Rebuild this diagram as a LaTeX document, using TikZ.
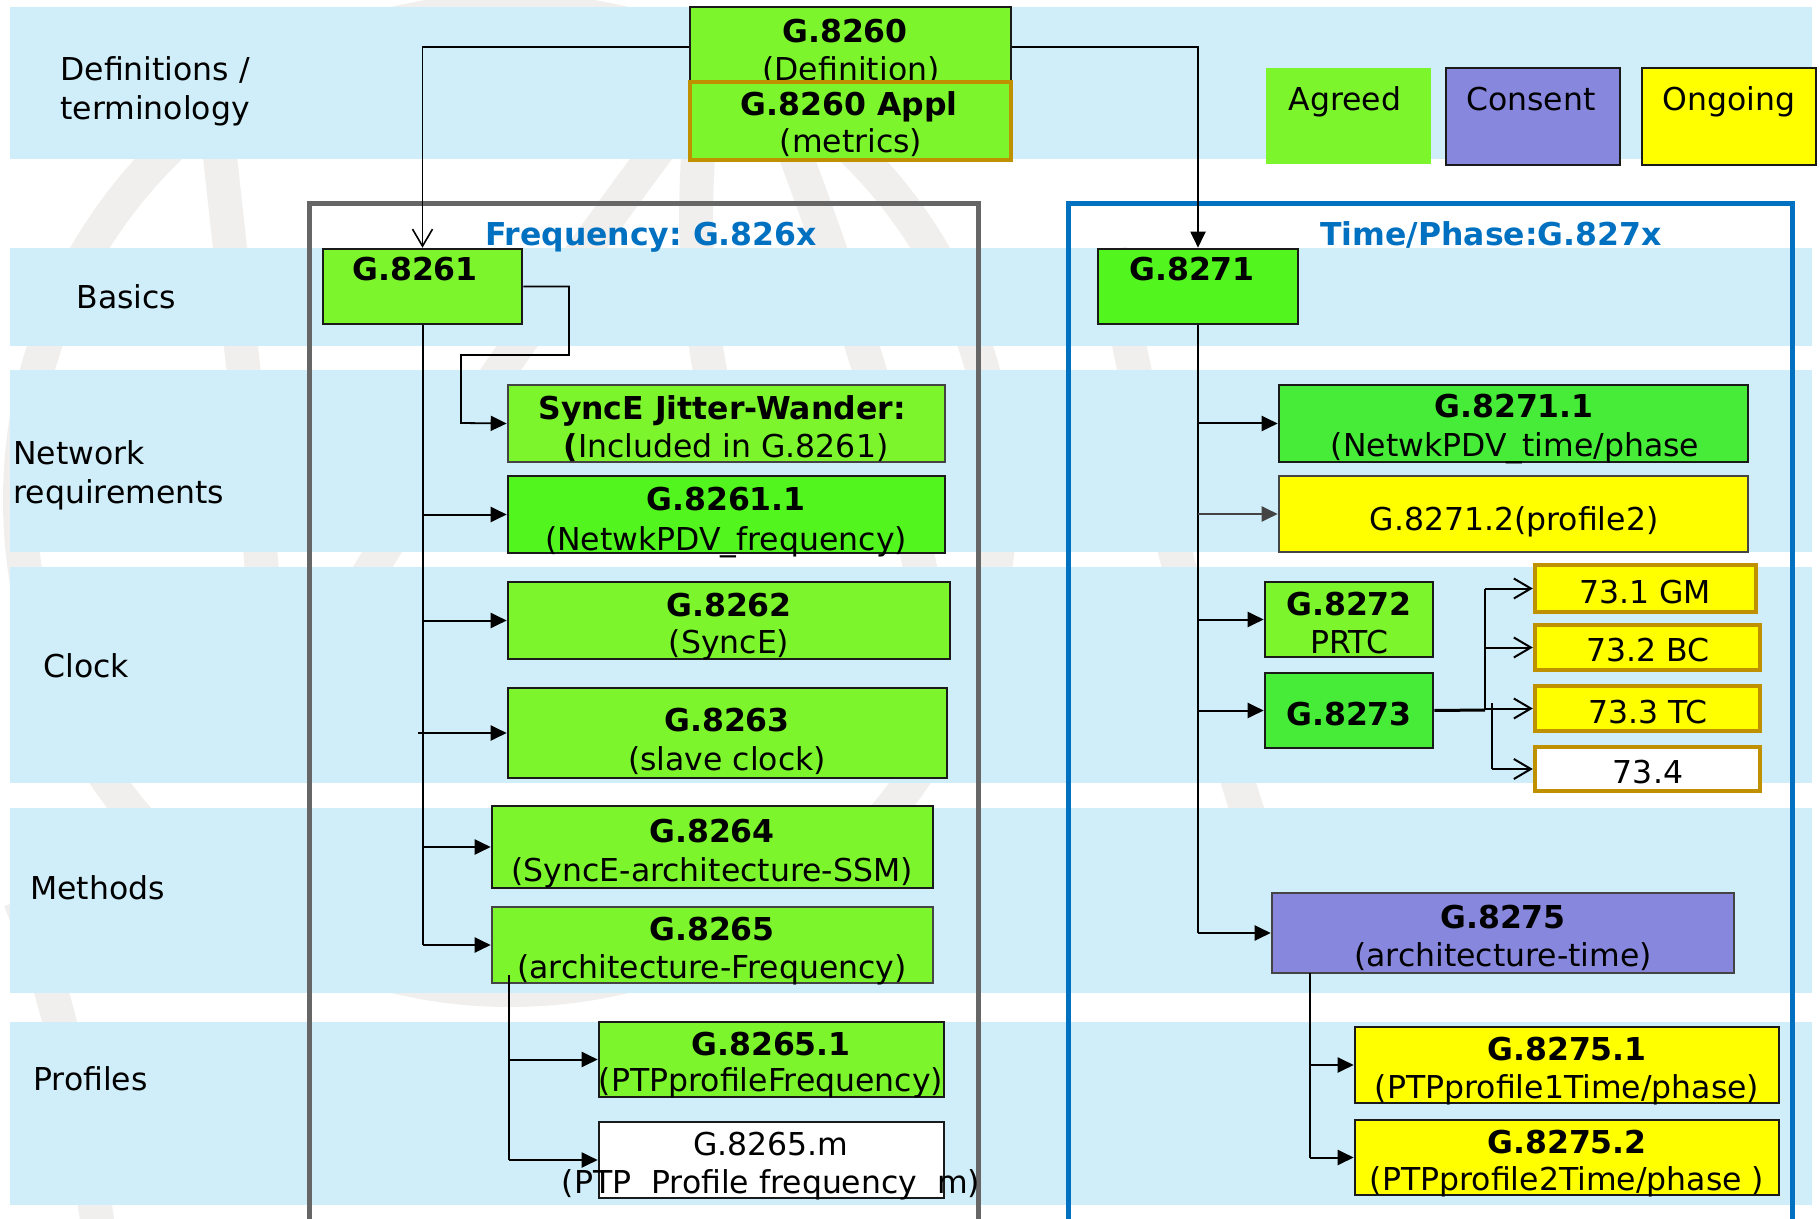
\documentclass[tikz,border=0pt]{standalone}
\usepackage{fontspec}
\setmainfont{DejaVu Sans}
\usetikzlibrary{arrows.meta,fit}
\frenchspacing

\definecolor{band}{HTML}{D0EEF9}
\definecolor{agreed}{HTML}{7CF52D}
\definecolor{brightgreen}{HTML}{52F51E}
\definecolor{tealgreen}{HTML}{46EC38}
\definecolor{consent}{HTML}{8787DD}
\definecolor{ongoing}{HTML}{FFFF00}
\definecolor{gold}{HTML}{BF9000}
\definecolor{framegrey}{HTML}{666666}
\definecolor{frameblue}{HTML}{0070C0}
\definecolor{wmark}{HTML}{F0EFED}
\definecolor{boxline}{HTML}{1A1A1A}
\definecolor{softline}{HTML}{444444}

\tikzset{
  txt/.style={font=\fontsize{15.75}{20}\selectfont, inner sep=0pt, anchor=base, yshift=-1.5pt},
  btxt/.style={txt, font=\fontsize{15.75}{20}\selectfont\bfseries},
  rowlabel/.style={txt, anchor=base west},
  doc/.style={draw=boxline, line width=1.3pt, inner sep=0pt},
  softdoc/.style={doc, draw=softline},
  golddoc/.style={draw=gold, line width=2.2pt, inner sep=0pt},
  conn/.style={line width=1pt},
  arr/.style={conn, -{Triangle[length=8pt,width=7.5pt]}},
  openarr/.style={conn, -{Straight Barb[length=8.5pt,width=10pt]}},
  framettl/.style={btxt, text=frameblue}
}

\begin{document}
\begin{tikzpicture}[x=0.5pt,y=-0.5pt]
\useasboundingbox (0,0) rectangle (1820,1219);

% faint emblem in the background
\begin{scope}[draw=wmark, line width=17pt]
  \draw (510,500) circle[radius=490];
  \draw (215,110) .. controls (235,300) and (255,450) .. (265,620);
  \draw (680,120) .. controls (560,280) and (420,480) .. (330,640);
  \draw (790,140) .. controls (850,300) and (900,450) .. (930,620);
  \draw (1110,250) .. controls (1140,400) and (1180,600) .. (1250,820);
  \draw (700,130) .. controls (690,250) and (700,330) .. (720,420);
  \draw (20,900) .. controls (60,1000) and (80,1100) .. (100,1240);
\end{scope}

% row bands
\foreach \a/\b in {7/159,248/346,370/552,567/783,808/993,1022/1205}
  \fill[band] (10,\a) rectangle (1812,\b);

% row labels
\node[rowlabel] (lbl-def1) at (60,78) {Definitions /};
\node[rowlabel] (lbl-def2) at (60,117) {terminology};
\node[rowlabel] (lbl-basics) at (76,306) {Basics};
\node[rowlabel] (lbl-net1) at (13,462) {Network};
\node[rowlabel] (lbl-net2) at (13,500) {requirements};
\node[rowlabel] (lbl-clock) at (43,674) {Clock};
\node[rowlabel] (lbl-methods) at (30,896) {Methods};
\node[rowlabel] (lbl-profiles) at (33,1087) {Profiles};

% series frames
\draw[framegrey, line width=2.5pt] (309,1240) -- (309,204) -- (978,204) -- (978,1240);
\draw[frameblue, line width=2.5pt] (1068,1240) -- (1068,204) -- (1792,204) -- (1792,1240);
\node[framettl] (ttl-freq) at (651,243) {Frequency: G.826x};
\node[framettl] (ttl-time) at (1491,243) {Time/Phase:G.827x};

% legend
\node[inner sep=0pt, fill=agreed, fit={(1266,68) (1431,164)}] (leg-agreed) {};
\node[doc, fill=consent, fit={(1446,68) (1620,165)}] (leg-consent) {};
\node[doc, fill=ongoing, fit={(1642,68) (1816,165)}] (leg-ongoing) {};
\node[txt] (leg-agreed-t) at (1345,108) {Agreed};
\node[txt] (leg-consent-t) at (1531,108) {Consent};
\node[txt] (leg-ongoing-t) at (1729,108) {Ongoing};

% definitions
\node[doc, fill=agreed, fit={(690,7) (1011,87)}] (g8260) {};
\node[btxt] (g8260-a) at (845,40) {G.8260};
\node[txt] (g8260-b) at (851,78) {(Definition)};
\node[golddoc, fill=agreed, fit={(690,82) (1011,160)}] (g8260appl) {};
\node[btxt] (g8260appl-a) at (849,113) {G.8260 Appl};
\node[txt] (g8260appl-b) at (851,150) {(metrics)};

% frequency series
\node[doc, fill=agreed, fit={(323,249) (522,324)}] (g8261) {};
\node[btxt] (g8261-a) at (415,278) {G.8261};

\node[softdoc, fill=agreed, fit={(508,385) (945,462)}] (synce) {};
\node[btxt] (synce-a) at (722,417) {SyncE Jitter-Wander:};
\node[txt] (synce-b) at (726,455) {\textbf{(}Included in G.8261)};

\node[doc, fill=brightgreen, fit={(508,476) (945,553)}] (g82611) {};
\node[btxt] (g82611-a) at (726,507) {G.8261.1};
\node[txt] (g82611-b) at (726,547) {(NetwkPDV\_frequency)};

\node[doc, fill=agreed, fit={(508,582) (950,659)}] (g8262) {};
\node[btxt] (g8262-a) at (729,613) {G.8262};
\node[txt] (g8262-b) at (729,650) {(SyncE)};

\node[doc, fill=agreed, fit={(508,688) (947,778)}] (g8263) {};
\node[btxt] (g8263-a) at (727,728) {G.8263};
\node[txt] (g8263-b) at (727,767) {(slave clock)};

\node[doc, fill=agreed, fit={(492,806) (933,888)}] (g8264) {};
\node[btxt] (g8264-a) at (712,839) {G.8264};
\node[txt] (g8264-b) at (712,878) {(SyncE-architecture-SSM)};

\node[softdoc, fill=agreed, fit={(492,907) (933,983)}] (g8265) {};
\node[btxt] (g8265-a) at (712,937) {G.8265};
\node[txt] (g8265-b) at (712,975) {(architecture-Frequency)};

\node[doc, fill=agreed, fit={(599,1022) (944,1097)}] (g82651) {};
\node[btxt] (g82651-a) at (771,1052) {G.8265.1};
\node[txt] (g82651-b) at (771,1088) {(PTPprofileFrequency)};

\node[doc, fill=white, fit={(599,1122) (944,1198)}] (g8265m) {};
\node[txt] (g8265m-a) at (771,1152) {G.8265.m};
\node[txt] (g8265m-b) at (771,1190) {(PTP\ \ Profile frequency\ \ m)};

% time/phase series
\node[doc, fill=brightgreen, fit={(1098,249) (1298,324)}] (g8271) {};
\node[btxt] (g8271-a) at (1192,278) {G.8271};

\node[doc, fill=tealgreen, fit={(1279,385) (1748,462)}] (g82711) {};
\node[btxt] (g82711-a) at (1514,415) {G.8271.1};
\node[txt] (g82711-b) at (1515,454) {(NetwkPDV\_time/phase};

\node[softdoc, fill=ongoing, fit={(1279,476) (1748,552)}] (g82712) {};
\node[txt] (g82712-a) at (1514,527) {G.8271.2(profile2)};

\node[doc, fill=agreed, fit={(1265,582) (1433,657)}] (g8272) {};
\node[btxt] (g8272-a) at (1349,612) {G.8272};
\node[txt] (g8272-b) at (1349,650) {PRTC};

\node[doc, fill=tealgreen, fit={(1265,673) (1433,748)}] (g8273) {};
\node[btxt] (g8273-a) at (1349,722) {G.8273};

\node[golddoc, fill=ongoing, fit={(1535,565) (1756,612)}] (g731) {};
\node[txt] (g731-a) at (1645,600) {73.1 GM};
\node[golddoc, fill=ongoing, fit={(1535,625) (1760,670)}] (g732) {};
\node[txt] (g732-a) at (1648,658) {73.2 BC};
\node[golddoc, fill=ongoing, fit={(1535,686) (1760,731)}] (g733) {};
\node[txt] (g733-a) at (1648,720) {73.3 TC};
\node[golddoc, fill=white, fit={(1535,747) (1760,791)}] (g734) {};
\node[txt] (g734-a) at (1648,780) {73.4};

\node[softdoc, fill=consent, fit={(1272,893) (1734,973)}] (g8275) {};
\node[btxt] (g8275-a) at (1503,925) {G.8275};
\node[txt] (g8275-b) at (1503,963) {(architecture-time)};

\node[doc, fill=ongoing, fit={(1355,1027) (1779,1103)}] (g82751) {};
\node[btxt] (g82751-a) at (1567,1057) {G.8275.1};
\node[txt] (g82751-b) at (1567,1095) {(PTPprofile1Time/phase)};

\node[doc, fill=ongoing, fit={(1355,1120) (1779,1195)}] (g82752) {};
\node[btxt] (g82752-a) at (1567,1150) {G.8275.2};
\node[txt] (g82752-b) at (1567,1187) {(PTPprofile2Time/phase )};

% connectors from the definitions
\draw[openarr, line width=0.8pt] (g8260.west) -| (g8261.north);
\draw[arr] (g8260.east) -| (g8271.north);

% frequency tree
\draw[arr, line width=0.9pt] (g8261.east) -| (569,355) -| (461,423) -- (synce.west);
\draw[conn] (g8261.south) -- (g8261.south |- g8265.west);
\draw[arr] (g8261.south |- g82611.west) -- (g82611.west);
\draw[arr] (g8261.south |- g8262.west) -- (g8262.west);
\draw[arr] ([xshift=-2.5pt]g8261.south |- g8263.west) -- (g8263.west);
\draw[arr] (g8261.south |- g8264.west) -- (g8264.west);
\draw[arr] (g8261.south |- g8265.west) -- (g8265.west);
\coordinate (ftrunk) at (509,975);
\draw[conn] (ftrunk) -- (ftrunk |- g8265m.west);
\draw[arr] (ftrunk |- g82651.west) -- (g82651.west);
\draw[arr] (ftrunk |- g8265m.west) -- (g8265m.west);

% time/phase tree
\draw[conn] (g8271.south) -- (g8271.south |- g8275.west);
\draw[arr] (g8271.south |- g82711.west) -- (g82711.west);
\draw[arr, draw=softline, fill=softline] (g8271.south |- g82712.west) -- (g82712.west);
\draw[arr] (g8271.south |- g8272.west) -- (g8272.west);
\draw[arr] (g8271.south |- g8273.west) -- (g8273.west);
\draw[arr] (g8271.south |- g8275.west) -- (g8275.west);

\coordinate (sa) at (1485,710);
\coordinate (sb) at (1492,703);
\draw[line width=1.5pt] (g8273.east) -- (sa);
\draw[conn] (sa) -- (sa |- g731.west);
\draw[openarr] (sa |- g731.west) -- (g731.west);
\draw[openarr] (sa |- g732.west) -- (g732.west);
\draw[openarr] (sa |- g733.west) -- (g733.west);
\draw[conn] (sb) -- (sb |- g734.west);
\draw[openarr] (sb |- g734.west) -- (g734.west);

\coordinate (ttrunk) at (1310,973);
\draw[conn] (ttrunk) -- (ttrunk |- g82752.west);
\draw[arr] (ttrunk |- g82751.west) -- (g82751.west);
\draw[arr] (ttrunk |- g82752.west) -- (g82752.west);
\end{tikzpicture}
\end{document}
